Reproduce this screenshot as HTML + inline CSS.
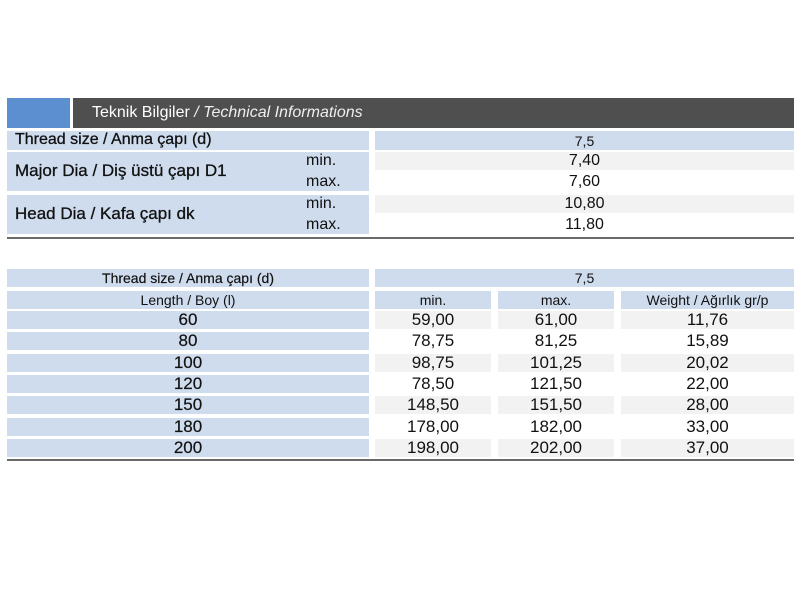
<!DOCTYPE html>
<html><head><meta charset="utf-8"><style>
body{margin:0;width:800px;height:600px;background:#fff;position:relative;overflow:hidden;font-family:"Liberation Sans","DejaVu Sans",sans-serif;color:#111}
.b{position:absolute;box-sizing:border-box}
.bl{background:#cfdcee}
.gr{background:#f2f2f2}
.t{position:absolute;white-space:nowrap}
.c{text-align:center;display:flex;align-items:center;justify-content:center}
</style></head><body>
<div class="b" style="left:7px;top:98px;width:63px;height:30px;background:#5b8fd0"></div>
<div class="b" style="left:73px;top:98px;width:721px;height:30px;background:#4f4f4f"></div>
<div class="t" style="left:92px;top:104px;font-size:16px;color:#fff">Teknik Bilgiler <i style="color:#eee">/ Technical Informations</i></div>

<div class="b bl" style="left:7px;top:131px;width:362px;height:19px"></div>
<div class="t" style="left:15px;top:131px;font-size:16px;-webkit-text-stroke:0.3px #111">Thread size / Anma çapı (d)</div>
<div class="b bl c" style="left:375px;top:131px;width:419px;height:19px;font-size:14px">7,5</div>

<div class="b bl" style="left:7px;top:152px;width:362px;height:39px"></div>
<div class="t" style="left:15px;top:161px;font-size:17px;-webkit-text-stroke:0.3px #111">Major Dia / Diş üstü çapı D1</div>
<div class="t" style="left:306px;top:152px;font-size:16px">min.</div>
<div class="t" style="left:306px;top:173px;font-size:16px">max.</div>
<div class="b gr c" style="left:375px;top:152px;width:419px;height:18px;font-size:16px">7,40</div>
<div class="b c" style="left:375px;top:172px;width:419px;height:19px;font-size:16px">7,60</div>

<div class="b bl" style="left:7px;top:195px;width:362px;height:39px"></div>
<div class="t" style="left:15px;top:204px;font-size:17px;-webkit-text-stroke:0.3px #111">Head Dia / Kafa çapı dk</div>
<div class="t" style="left:306px;top:195px;font-size:16px">min.</div>
<div class="t" style="left:306px;top:216px;font-size:16px">max.</div>
<div class="b gr c" style="left:375px;top:195px;width:419px;height:18px;font-size:16px">10,80</div>
<div class="b c" style="left:375px;top:215px;width:419px;height:19px;font-size:16px">11,80</div>
<div class="b" style="left:7px;top:237px;width:787px;height:2px;background:#6a6a6a"></div>

<div class="b bl c" style="left:7px;top:269px;width:362px;height:18px;font-size:14px;-webkit-text-stroke:0.2px #111">Thread size / Anma çapı (d)</div>
<div class="b bl c" style="left:375px;top:269px;width:419px;height:18px;font-size:14px">7,5</div>
<div class="b bl c" style="left:7px;top:291px;width:362px;height:18px;font-size:14px">Length / Boy (l)</div>
<div class="b bl c" style="left:375px;top:291px;width:116px;height:18px;font-size:14px">min.</div>
<div class="b bl c" style="left:498px;top:291px;width:116px;height:18px;font-size:14px">max.</div>
<div class="b bl c" style="left:621px;top:291px;width:173px;height:18px;font-size:14px">Weight / Ağırlık gr/p</div>

<div id="rows"></div>
<div class="b" style="left:7px;top:459px;width:787px;height:2px;background:#6a6a6a"></div>
<script>
var d=[["60","59,00","61,00","11,76"],["80","78,75","81,25","15,89"],["100","98,75","101,25","20,02"],["120","78,50","121,50","22,00"],["150","148,50","151,50","28,00"],["180","178,00","182,00","33,00"],["200","198,00","202,00","37,00"]];
var h="";
d.forEach(function(r,i){var y=311+Math.round(i*21.3);var g=i%2==0?" gr":"";
h+='<div class="b bl c" style="left:7px;top:'+y+'px;width:362px;height:18px;font-size:17px;-webkit-text-stroke:0.2px #111">'+r[0]+'</div>';
h+='<div class="b c'+g+'" style="left:375px;top:'+y+'px;width:116px;height:18px;font-size:17px">'+r[1]+'</div>';
h+='<div class="b c'+g+'" style="left:498px;top:'+y+'px;width:116px;height:18px;font-size:17px">'+r[2]+'</div>';
h+='<div class="b c'+g+'" style="left:621px;top:'+y+'px;width:173px;height:18px;font-size:17px">'+r[3]+'</div>';});
document.getElementById("rows").innerHTML=h;
</script>
</body></html>
